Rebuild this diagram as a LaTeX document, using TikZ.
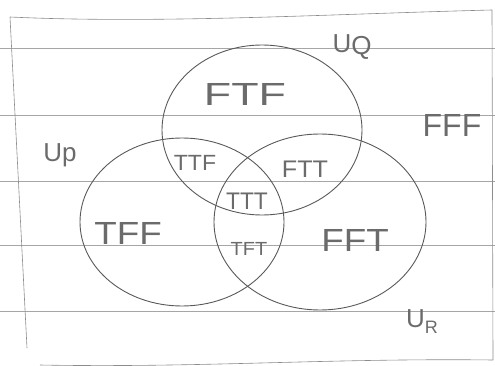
\documentclass[tikz,border=0pt]{standalone}
\usepackage{fontspec}
\setmainfont{Liberation Sans}
\begin{document}
\begin{tikzpicture}[x=1pt,y=-1pt,
  rule/.style={draw=black!35,line width=0.5pt},
  margin/.style={draw=black!45,line width=0.6pt},
  setring/.style={draw=black!65,line width=0.9pt},
  tag/.style={text=black!58,inner sep=0pt,font=\fontsize{#1}{#1}\selectfont},
  tag/.default=30]
  \useasboundingbox (0,0) rectangle (495,366);
  % ruled lines of the paper
  \foreach \yy in {48,115,181,245,311}
    \draw[rule] (0,\yy) -- (495,\yy);
  % page edges
  \coordinate (tl) at (10,17);
  \coordinate (tr) at (492,10);
  \coordinate (bl) at (27,348);
  \coordinate (br) at (493,360);
  \coordinate (bs) at (40,365);
  \draw[margin] (tl) .. controls (160,24) and (330,14) .. (tr);
  \draw[margin] (tl) -- (bl);
  \draw[margin] (tr) -- (br);
  \draw[margin] (bs) .. controls (200,368) and (330,358) .. (br);
  % the three sets
  \draw[setring] (262,130) ellipse [x radius=100, y radius=85];
  \draw[setring] (182,222) ellipse [x radius=102, y radius=84];
  \draw[setring] (320,222) ellipse [x radius=106, y radius=88];
  % set names
  \node[tag=26] (uq) at (352,47) {U\raisebox{-2pt}{Q}};
  \node[tag=26] (up) at (60,155) {Up};
  \node[tag=26] (ur) at (422,322) {U\raisebox{-6pt}{\fontsize{18}{18}\selectfont R}};
  % regions
  \node[tag=32,xscale=1.4] (ftf) at (245,94) {FTF};
  \node[tag=32,xscale=1.0] (fff) at (452,125) {FFF};
  \node[tag=22,xscale=1.05] (ttf) at (195,163) {TTF};
  \node[tag=24,xscale=1.05] (ftt) at (305,169) {FTT};
  \node[tag=24,xscale=0.95] (ttt) at (247,201) {TTT};
  \node[tag=32,xscale=1.15] (tff) at (128,233) {TFF};
  \node[tag=19,xscale=1.05] (tft) at (249,249) {TFT};
  \node[tag=32,xscale=1.15] (fft) at (355,240) {FFT};
\end{tikzpicture}
\end{document}
